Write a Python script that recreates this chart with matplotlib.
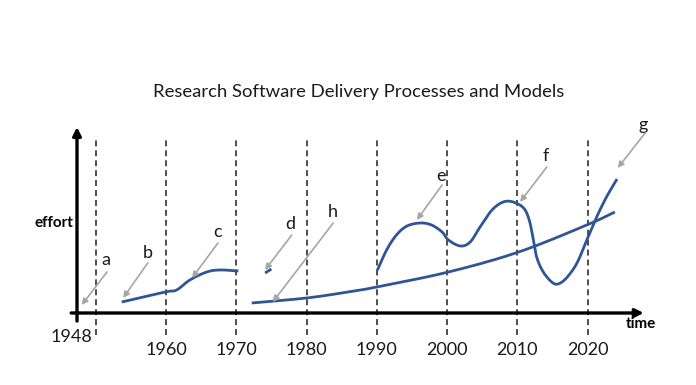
import numpy as np
import matplotlib
matplotlib.use("Agg")
import matplotlib.pyplot as plt

plt.rcParams['font.family'] = ['Lato', 'DejaVu Sans']

title = "Research Software Delivery Processes and Models"
decades = [1950, 1960, 1970, 1980, 1990, 2000, 2010, 2020]
tick_years = [1960, 1970, 1980, 1990, 2000, 2010, 2020]
tick_labels = ["1960", "1970", "1980", "1990", "2000", "2010", "2020"]

# curve b-c
bc_year = [1953.7, 1959.9, 1961.5, 1963.4, 1965.8, 1967.7, 1970.3]
bc_effort = [11, 21, 23, 33, 41, 43, 42]
# curve d
d_year = [1974.1, 1975.0]
d_effort = [40, 44]
# curve h
h_year = [1972.2, 1980.0, 1985.9, 1990.0, 2000.2, 2010.2, 2019.9, 2023.9]
h_effort = [10, 15, 21, 26, 41, 61, 88, 101]
# curve e-f-g
efg_year = [1990.1, 1991.4, 1992.8, 1994.3, 1996.2, 1997.8, 1999.3, 2000.2,
            2001.9, 2003.3, 2004.7, 2006.4, 2008.0, 2009.4, 2010.9, 2011.7,
            2012.3, 2012.8, 2013.7, 2014.9, 2015.8, 2017.0, 2018.5, 2019.9,
            2021.3, 2022.7, 2024.2]
efg_effort = [43, 63, 78, 87, 90, 88, 81, 73,
              67, 71, 86, 103, 111, 111, 105, 93,
              73, 55, 41, 31, 29, 35, 50, 73,
              96, 116, 134]

labels = ["a", "b", "c", "d", "h", "e", "f", "g"]
label_x = [1951.5, 1957.4, 1967.3, 1977.7, 1983.8, 1999.2, 2014.1, 2027.9]
label_y = [53, 60, 81, 89, 101, 137, 157, 188]
arrow_from_x = [1951.6, 1957.4, 1967.4, 1977.9, 1983.8, 1999.3, 2014.2, 2028.2]
arrow_from_y = [41, 50, 70, 78, 90, 128, 146, 180]
arrow_to_x = [1948.0, 1953.9, 1963.7, 1974.1, 1975.2, 1995.7, 2010.4, 2024.3]
arrow_to_y = [8, 15, 35, 43, 11, 93, 111, 145]


def smooth(xs, ys, n=20):
    # Catmull-Rom rendering of a curve through the read points
    x = np.asarray(xs, float); y = np.asarray(ys, float)
    if len(x) < 3:
        return x, y
    P = np.column_stack([x, y])
    P = np.vstack([2 * P[0] - P[1], P, 2 * P[-1] - P[-2]])
    out = []
    t = np.linspace(0, 1, n, endpoint=False)[:, None]
    for i in range(1, len(P) - 2):
        p0, p1, p2, p3 = P[i - 1], P[i], P[i + 1], P[i + 2]
        seg = 0.5 * ((2 * p1) + (-p0 + p2) * t + (2 * p0 - 5 * p1 + 4 * p2 - p3) * t ** 2
                     + (-p0 + 3 * p1 - 3 * p2 + p3) * t ** 3)
        out.append(seg)
    out.append(P[-2][None, :])
    out = np.vstack(out)
    return out[:, 0], out[:, 1]


fig = plt.figure(figsize=(6.96, 3.85), dpi=100)
ax = fig.add_axes([0, 0, 1, 1])
ax.set_xlim(1936.37, 2035.44)
ax.set_ylim(-72, 313)
ax.axis('off')

ax.text(1987.4, 221, title, fontsize=13.3, ha='center', va='center', color='#1a1a1a')

for yr in decades:
    ax.plot([yr, yr], [-22, 173], ls=(0, (3.3, 2.2)), color='#404040', lw=1.3)

# axes
ax.annotate('', xy=(2028.0, 0), xytext=(1946.5, 0),
            arrowprops=dict(arrowstyle='-|>', color='black', lw=2.4, mutation_scale=12, shrinkA=0, shrinkB=0))
ax.annotate('', xy=(1947.33, 186), xytext=(1947.33, -8),
            arrowprops=dict(arrowstyle='-|>', color='black', lw=2.4, mutation_scale=12, shrinkA=0, shrinkB=0))

ax.text(1946.8, 90, "effort", fontsize=11, fontweight='bold', ha='right', va='center')
ax.text(2027.6, -11, "time", fontsize=11, fontweight='bold', ha='center', va='center')

for yr, lab in zip(tick_years, tick_labels):
    ax.text(yr, -37, lab, fontsize=13, ha='center', va='center', color='#1a1a1a')
ax.text(1949.5, -24, "1948", fontsize=13, ha='right', va='center', color='#1a1a1a')

blue = '#2f5597'
for xs, ys in [(bc_year, bc_effort), (d_year, d_effort), (h_year, h_effort), (efg_year, efg_effort)]:
    sx, sy = smooth(xs, ys)
    ax.plot(sx, sy, color=blue, lw=2.0, solid_capstyle='butt')

for lab, lx, ly in zip(labels, label_x, label_y):
    ax.text(lx, ly, lab, fontsize=13, ha='center', va='center', color='#1a1a1a')
for fx, fy, tx, ty in zip(arrow_from_x, arrow_from_y, arrow_to_x, arrow_to_y):
    ax.annotate('', xy=(tx, ty), xytext=(fx, fy),
                arrowprops=dict(arrowstyle='-|>', color='#a6a6a6', lw=1.2, mutation_scale=9, shrinkA=0, shrinkB=0))

fig.savefig('out.png', dpi=100)
